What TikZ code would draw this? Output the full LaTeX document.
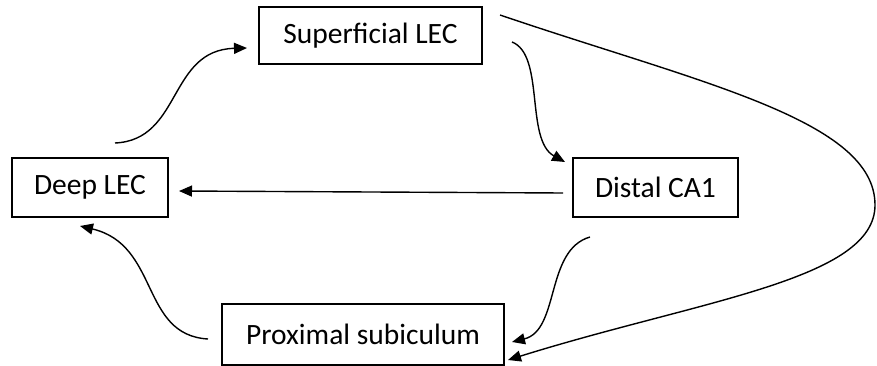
\documentclass[tikz,border=0pt]{standalone}
\usepackage{fontspec}
\setmainfont{Carlito}
\usetikzlibrary{arrows.meta}
\begin{document}
\begin{tikzpicture}[x=1pt,y=-1pt,
  box/.style={draw, line width=1.5pt, rectangle, inner sep=0pt, font=\fontsize{29.5}{34}\selectfont},
  conn/.style={line width=1.4pt, -{Triangle[length=13pt,width=11pt]}}]
\useasboundingbox (0,0) rectangle (877,366);
\node[box, minimum width=223pt, minimum height=57pt] (sup) at (370.5,35.5) {Superficial LEC\hspace{8pt}};
\node[box, minimum width=156pt, minimum height=59pt] (deep) at (90,187.5) {Deep LEC};
\node[box, minimum width=165pt, minimum height=59pt] (dist) at (655.5,187.5) {Distal CA1};
\node[box, minimum width=282pt, minimum height=61pt] (prox) at (363,334.5) {Proximal subiculum\hspace{12pt}};
% free ends
\coordinate (a1) at (115,143); \coordinate (a2) at (247,48);
\coordinate (b1) at (512,42);  \coordinate (b2) at (565,162);
\coordinate (c1) at (563,193); \coordinate (c2) at (179,191);
\coordinate (d1) at (590,237); \coordinate (d2) at (512,342);
\coordinate (e1) at (208,339); \coordinate (e2) at (80,226);
\coordinate (f1) at (500,15);  \coordinate (fm) at (875,205); \coordinate (f2) at (508,360);
\draw[conn] (a1) .. controls (182,140) and (168,50) .. (a2);
\draw[conn] (b1) .. controls (545,55) and (525,140) .. (b2);
\draw[conn] (c1) -- (c2);
\draw[conn] (d1) .. controls (545,250) and (560,330) .. (d2);
\draw[conn] (e1) .. controls (140,335) and (160,245) .. (e2);
\draw[conn] (f1) .. controls (700,83) and (875,120) .. (fm)
             .. controls (875,280) and (700,300) .. (f2);
\end{tikzpicture}
\end{document}
